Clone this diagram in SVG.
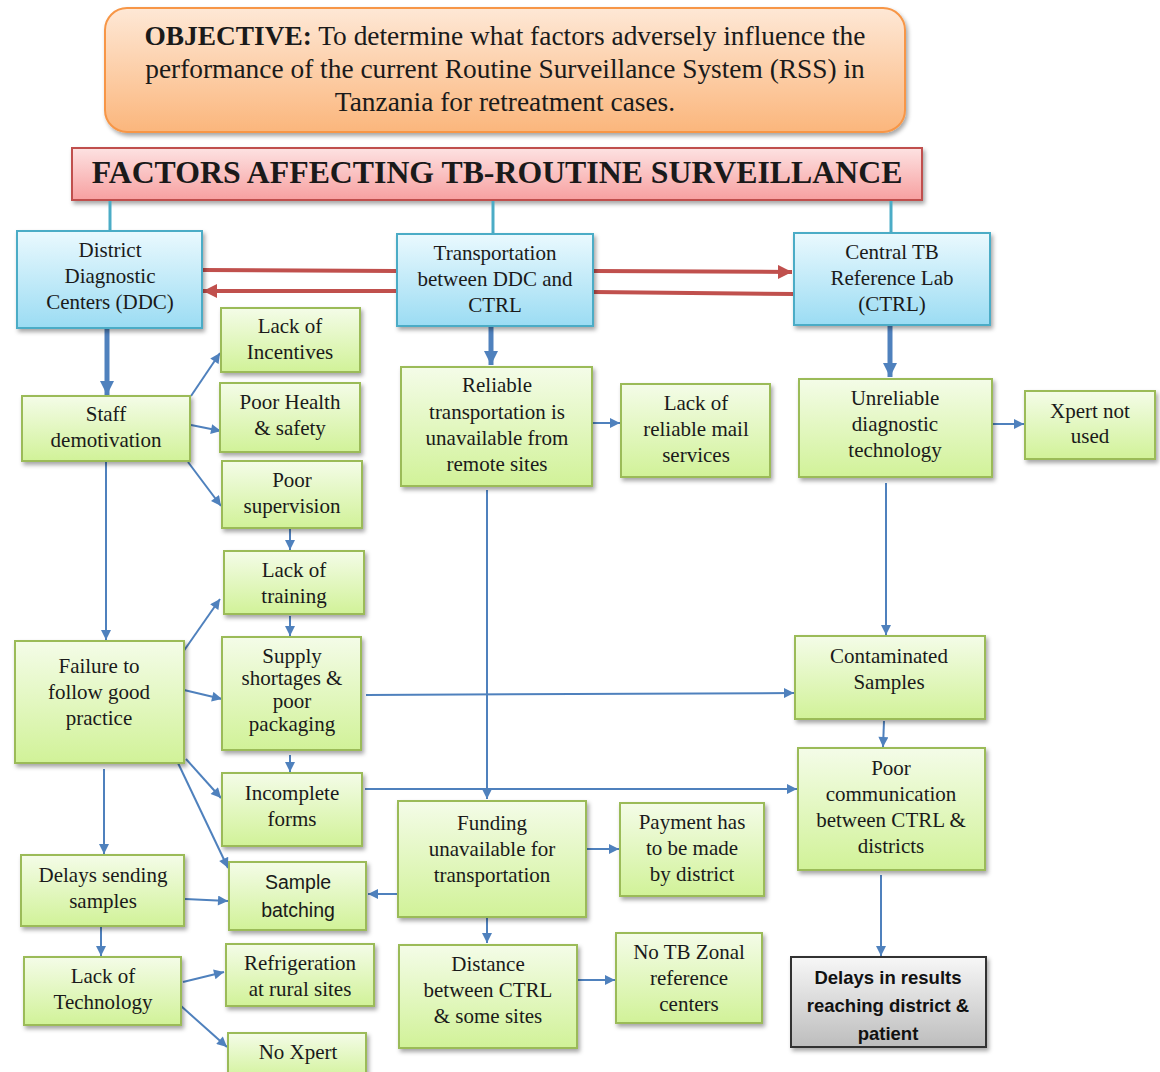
<svg xmlns="http://www.w3.org/2000/svg" width="1160" height="1072" viewBox="0 0 1160 1072">
<defs>
<linearGradient id="gGreen" x1="0" y1="0" x2="0" y2="1"><stop offset="0" stop-color="#f4fce8"/><stop offset="1" stop-color="#d1f298"/></linearGradient>
<linearGradient id="gBlue" x1="0" y1="0" x2="0" y2="1"><stop offset="0" stop-color="#eaf9fe"/><stop offset="1" stop-color="#9bdcf3"/></linearGradient>
<linearGradient id="gOrange" x1="0" y1="0" x2="0" y2="1"><stop offset="0" stop-color="#fee8d6"/><stop offset="1" stop-color="#fbb67c"/></linearGradient>
<linearGradient id="gRed" x1="0" y1="0" x2="0" y2="1"><stop offset="0" stop-color="#fde2e2"/><stop offset="1" stop-color="#f7a0a0"/></linearGradient>
<linearGradient id="gGray" x1="0" y1="0" x2="0" y2="1"><stop offset="0" stop-color="#f7f7f7"/><stop offset="1" stop-color="#bdbdbd"/></linearGradient>
<filter id="sh" x="-10%" y="-10%" width="125%" height="130%"><feDropShadow dx="2" dy="3" stdDeviation="2" flood-color="#000" flood-opacity="0.35"/></filter>
<marker id="ab" viewBox="0 0 10 10" refX="10" refY="5" markerWidth="11" markerHeight="10" markerUnits="userSpaceOnUse" orient="auto"><path d="M0,0 L10,5 L0,10 z" fill="#4f81bd"/></marker>
<marker id="abt" viewBox="0 0 10 10" refX="10" refY="5" markerWidth="14" markerHeight="16" markerUnits="userSpaceOnUse" orient="auto"><path d="M0,0 L10,5 L0,10 z" fill="#4f81bd"/></marker>
<marker id="ar" viewBox="0 0 10 10" refX="10" refY="5" markerWidth="14" markerHeight="14" markerUnits="userSpaceOnUse" orient="auto"><path d="M0,0 L10,5 L0,10 z" fill="#c0504d"/></marker>
</defs>
<style>
.gb{fill:url(#gGreen);stroke:#9bbb59;stroke-width:2;filter:url(#sh)}
.bb{fill:url(#gBlue);stroke:#4bacc6;stroke-width:2;filter:url(#sh)}
.t{font-family:"Liberation Serif","Times New Roman",serif;font-size:21px;fill:#1a1a1a;text-anchor:middle}
.ts{font-family:"Liberation Sans",Arial,sans-serif;font-size:19.5px;fill:#1a1a1a;text-anchor:middle}
.tb{font-family:"Liberation Sans",Arial,sans-serif;font-size:18.5px;font-weight:bold;fill:#111;text-anchor:middle}
.to{font-family:"Liberation Serif","Times New Roman",serif;font-size:27.4px;fill:#1a1a1a;text-anchor:middle}
.c{stroke:#4f81bd;stroke-width:2;fill:none;marker-end:url(#ab)}
.ct{stroke:#4f81bd;stroke-width:5;fill:none;marker-end:url(#abt)}
.cr{stroke:#c0504d;stroke-width:4;fill:none}
.tl{stroke:#4bacc6;stroke-width:3;fill:none}
</style>

<g id="objective">
<rect x="105" y="8" width="800" height="124" rx="22" fill="url(#gOrange)" stroke="#f79646" stroke-width="2" filter="url(#sh)"/>
<text class="to" x="505" y="45"><tspan font-weight="bold">OBJECTIVE:</tspan> To determine what factors adversely influence the</text>
<text class="to" x="505" y="78">performance of the current Routine Surveillance System (RSS) in</text>
<text class="to" x="505" y="111">Tanzania for retreatment cases.</text>
</g>

<g id="title">
<rect x="72" y="148" width="850" height="52" fill="url(#gRed)" stroke="#c0504d" stroke-width="2" filter="url(#sh)"/>
<text x="497" y="183" style="font-family:'Liberation Serif','Times New Roman',serif;font-size:31.8px;font-weight:bold;fill:#1a1a1a;text-anchor:middle">FACTORS AFFECTING TB-ROUTINE SURVEILLANCE</text>
</g>

<g id="connectors">
<line class="tl" x1="110" y1="201" x2="110" y2="231"/>
<line class="tl" x1="493" y1="201" x2="493" y2="234"/>
<line class="tl" x1="891" y1="201" x2="891" y2="233"/>
<line class="cr" x1="202" y1="270" x2="397" y2="271"/>
<line class="cr" x1="593" y1="271" x2="792" y2="272" marker-end="url(#ar)"/>
<line class="cr" x1="794" y1="294" x2="593" y2="292"/>
<line class="cr" x1="397" y1="291" x2="203" y2="291" marker-end="url(#ar)"/>
<line class="ct" x1="107" y1="328" x2="107" y2="395"/>
<line class="ct" x1="491" y1="326" x2="491" y2="365"/>
<line class="ct" x1="890" y1="325" x2="890" y2="377"/>
<line class="c" x1="191" y1="396" x2="220" y2="353"/>
<line class="c" x1="191" y1="425" x2="221" y2="431"/>
<line class="c" x1="188" y1="462" x2="221" y2="506"/>
<line class="c" x1="290" y1="529" x2="290" y2="550"/>
<line class="c" x1="290" y1="616" x2="290" y2="636"/>
<line class="c" x1="106" y1="462" x2="106" y2="640"/>
<line class="c" x1="183" y1="652" x2="220" y2="599"/>
<line class="c" x1="184" y1="690" x2="222" y2="699"/>
<line class="c" x1="366" y1="695" x2="794" y2="693"/>
<line class="c" x1="487" y1="490" x2="487" y2="799"/>
<line class="c" x1="592" y1="423" x2="620" y2="423"/>
<line class="c" x1="993" y1="424" x2="1024" y2="424"/>
<line class="c" x1="886" y1="483" x2="886" y2="635"/>
<line class="c" x1="884" y1="721" x2="883" y2="747"/>
<line class="c" x1="290" y1="755" x2="290" y2="772"/>
<line class="c" x1="186" y1="759" x2="221" y2="798"/>
<line class="c" x1="178" y1="763" x2="228" y2="868"/>
<line class="c" x1="104" y1="769" x2="104" y2="854"/>
<line class="c" x1="365" y1="789" x2="797" y2="789"/>
<line class="c" x1="185" y1="899" x2="228" y2="901"/>
<line class="c" x1="398" y1="894" x2="368" y2="894"/>
<line class="c" x1="587" y1="849" x2="619" y2="849"/>
<line class="c" x1="101" y1="927" x2="101" y2="956"/>
<line class="c" x1="487" y1="917" x2="487" y2="943"/>
<line class="c" x1="183" y1="982" x2="224" y2="972"/>
<line class="c" x1="181" y1="1006" x2="227" y2="1047"/>
<line class="c" x1="578" y1="980" x2="615" y2="980"/>
<line class="c" x1="881" y1="875" x2="881" y2="956"/>
</g>

<g id="ddc"><rect class="bb" x="17" y="231" width="185" height="97"/>
<text class="t" x="110" y="257">District</text><text class="t" x="110" y="283">Diagnostic</text><text class="t" x="110" y="309">Centers (DDC)</text></g>
<g id="transport"><rect class="bb" x="397" y="234" width="196" height="92"/>
<text class="t" x="495" y="260">Transportation</text><text class="t" x="495" y="286">between DDC and</text><text class="t" x="495" y="312">CTRL</text></g>
<g id="ctrl"><rect class="bb" x="794" y="233" width="196" height="92"/>
<text class="t" x="892" y="259">Central TB</text><text class="t" x="892" y="285">Reference Lab</text><text class="t" x="892" y="311">(CTRL)</text></g>

<g id="incentives"><rect class="gb" x="221" y="308" width="139" height="64"/>
<text class="t" x="290" y="333">Lack of</text><text class="t" x="290" y="359">Incentives</text></g>
<g id="health"><rect class="gb" x="220" y="383" width="140" height="69"/>
<text class="t" x="290" y="409">Poor Health</text><text class="t" x="290" y="435">&amp; safety</text></g>
<g id="supervision"><rect class="gb" x="222" y="461" width="140" height="67"/>
<text class="t" x="292" y="487">Poor</text><text class="t" x="292" y="513">supervision</text></g>
<g id="staff"><rect class="gb" x="22" y="396" width="168" height="65"/>
<text class="t" x="106" y="421">Staff</text><text class="t" x="106" y="447">demotivation</text></g>
<g id="training"><rect class="gb" x="224" y="551" width="140" height="63"/>
<text class="t" x="294" y="577">Lack of</text><text class="t" x="294" y="603">training</text></g>
<g id="supply"><rect class="gb" x="222" y="637" width="139" height="113"/>
<text class="t" x="292" y="663">Supply</text><text class="t" x="292" y="685">shortages &amp;</text><text class="t" x="292" y="708">poor</text><text class="t" x="292" y="731">packaging</text></g>
<g id="failure"><rect class="gb" x="15" y="641" width="169" height="122"/>
<text class="t" x="99" y="673">Failure to</text><text class="t" x="99" y="699">follow good</text><text class="t" x="99" y="725">practice</text></g>
<g id="incomplete"><rect class="gb" x="222" y="773" width="140" height="73"/>
<text class="t" x="292" y="800">Incomplete</text><text class="t" x="292" y="826">forms</text></g>
<g id="delays-sending"><rect class="gb" x="21" y="855" width="163" height="71"/>
<text class="t" x="103" y="882">Delays sending</text><text class="t" x="103" y="908">samples</text></g>
<g id="batching"><rect class="gb" x="229" y="862" width="137" height="68"/>
<text class="ts" x="298" y="889">Sample</text><text class="ts" x="298" y="917">batching</text></g>
<g id="lack-tech"><rect class="gb" x="24" y="957" width="157" height="68"/>
<text class="t" x="103" y="983">Lack of</text><text class="t" x="103" y="1009">Technology</text></g>
<g id="refrigeration"><rect class="gb" x="226" y="944" width="148" height="62"/>
<text class="t" x="300" y="970">Refrigeration</text><text class="t" x="300" y="996">at rural sites</text></g>
<g id="no-xpert"><rect class="gb" x="228" y="1033" width="138" height="48"/>
<text class="t" x="298" y="1059">No Xpert</text></g>
<g id="reliable"><rect class="gb" x="401" y="367" width="191" height="119"/>
<text class="t" x="497" y="392">Reliable</text><text class="t" x="497" y="419">transportation is</text><text class="t" x="497" y="445">unavailable from</text><text class="t" x="497" y="471">remote sites</text></g>
<g id="mail"><rect class="gb" x="621" y="384" width="149" height="93"/>
<text class="t" x="696" y="410">Lack of</text><text class="t" x="696" y="436">reliable mail</text><text class="t" x="696" y="462">services</text></g>
<g id="unreliable"><rect class="gb" x="799" y="379" width="193" height="98"/>
<text class="t" x="895" y="405">Unreliable</text><text class="t" x="895" y="431">diagnostic</text><text class="t" x="895" y="457">technology</text></g>
<g id="xpert-not-used"><rect class="gb" x="1025" y="391" width="130" height="68"/>
<text class="t" x="1090" y="418">Xpert not</text><text class="t" x="1090" y="443">used</text></g>
<g id="contaminated"><rect class="gb" x="795" y="636" width="190" height="83"/>
<text class="t" x="889" y="663">Contaminated</text><text class="t" x="889" y="689">Samples</text></g>
<g id="poor-comm"><rect class="gb" x="798" y="748" width="187" height="122"/>
<text class="t" x="891" y="775">Poor</text><text class="t" x="891" y="801">communication</text><text class="t" x="891" y="827">between CTRL &amp;</text><text class="t" x="891" y="853">districts</text></g>
<g id="funding"><rect class="gb" x="398" y="801" width="188" height="116"/>
<text class="t" x="492" y="830">Funding</text><text class="t" x="492" y="856">unavailable for</text><text class="t" x="492" y="882">transportation</text></g>
<g id="payment"><rect class="gb" x="620" y="803" width="144" height="93"/>
<text class="t" x="692" y="829">Payment has</text><text class="t" x="692" y="855">to be made</text><text class="t" x="692" y="881">by district</text></g>
<g id="distance"><rect class="gb" x="399" y="945" width="178" height="103"/>
<text class="t" x="488" y="971">Distance</text><text class="t" x="488" y="997">between CTRL</text><text class="t" x="488" y="1023">&amp; some sites</text></g>
<g id="zonal"><rect class="gb" x="616" y="933" width="146" height="90"/>
<text class="t" x="689" y="959">No TB Zonal</text><text class="t" x="689" y="985">reference</text><text class="t" x="689" y="1011">centers</text></g>
<g id="delays-results"><rect x="791" y="957" width="195" height="90" fill="url(#gGray)" stroke="#333" stroke-width="2" filter="url(#sh)"/>
<text class="tb" x="888" y="984">Delays in results</text><text class="tb" x="888" y="1012">reaching district &amp;</text><text class="tb" x="888" y="1040">patient</text></g>
</svg>
